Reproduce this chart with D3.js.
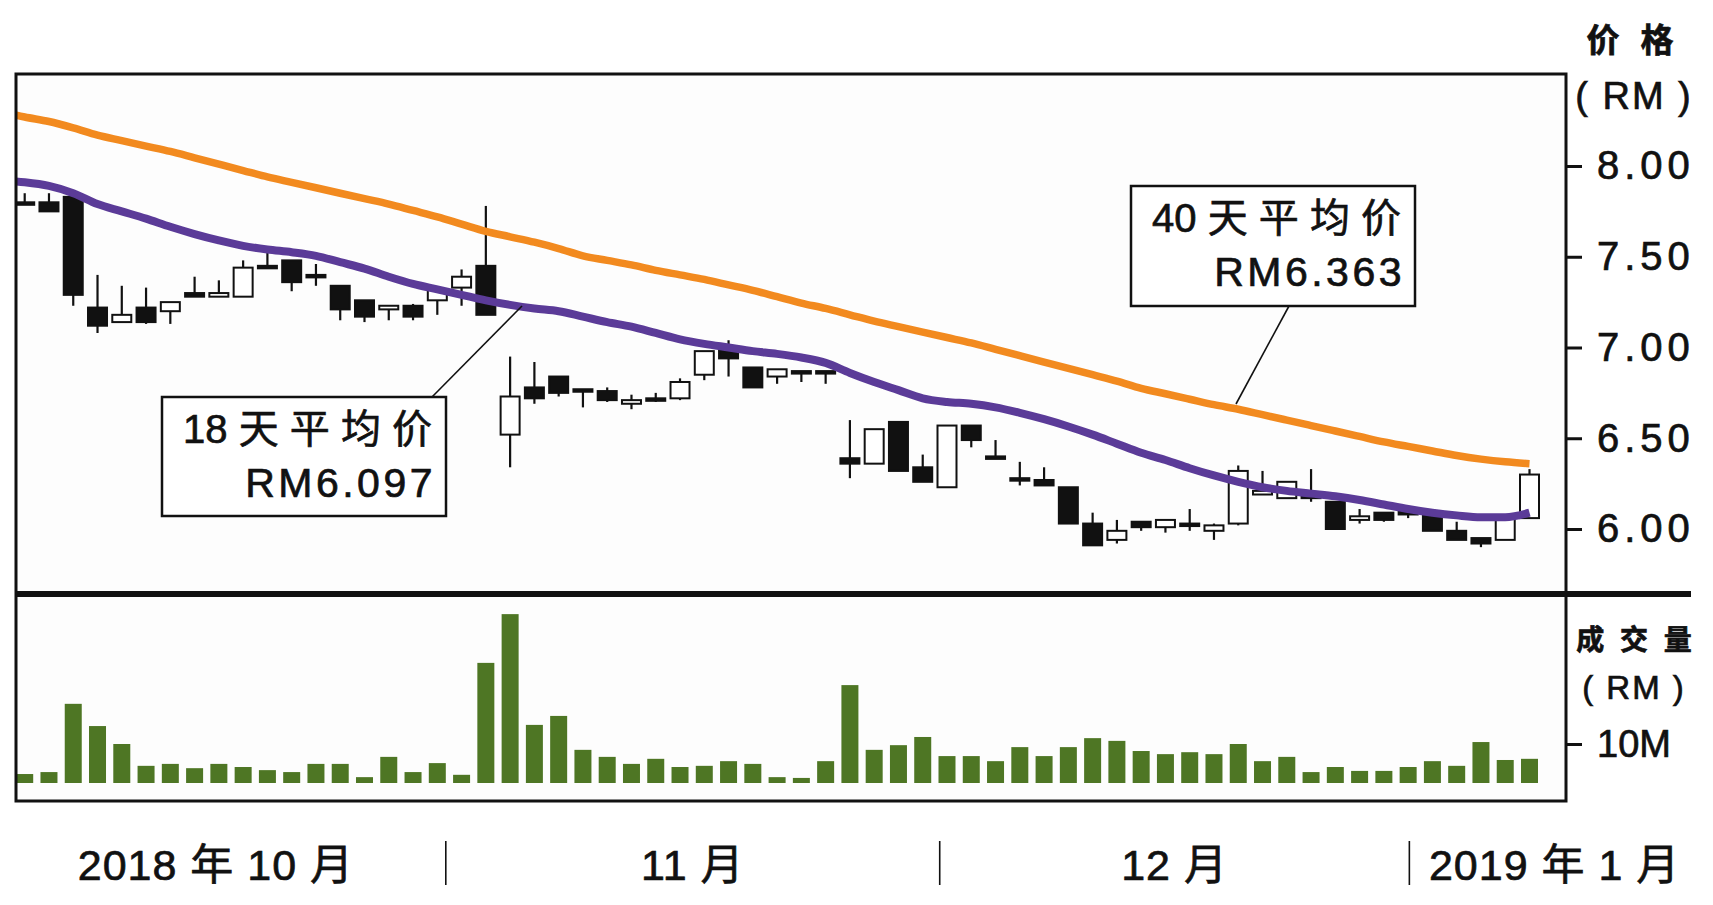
<!DOCTYPE html>
<html>
<head>
<meta charset="utf-8">
<script src="https://cdn.jsdelivr.net/npm/d3@7"></script>
<style>
  body { margin: 0; background: #fff; }
  svg { display: block; font-family: "Liberation Sans", "Noto Sans CJK SC", sans-serif; }
  text { stroke: #111; stroke-width: 0.7px; }
</style>
</head>
<body>
<svg width="1713" height="905"></svg>
<script>
// daily candles, trading day 0..62
const open  = [7.80, 7.80, 7.83, 7.22, 7.14, 7.22, 7.20, 7.30, 7.28, 7.28, 7.45, 7.48, 7.40, 7.34, 7.26, 7.21, 7.23, 7.26, 7.33, 7.45,
               6.52, 6.78, 6.84, 6.77, 6.76, 6.69, 6.72, 6.72, 6.85, 6.99, 6.89, 6.84, 6.87, 6.87, 6.39, 6.36, 6.59, 6.34, 6.23, 6.57,
               6.40, 6.28, 6.27, 6.23, 6.03, 5.94, 6.04, 6.01, 6.03, 5.99, 6.03, 6.19, 6.17, 6.19, 6.15, 6.05, 6.09, 6.10, 6.08, 5.99,
               5.95, 5.94, 6.06]
const high  = [7.85, 7.85, 7.84, 7.40, 7.34, 7.33, 7.25, 7.39, 7.37, 7.48, 7.53, 7.48, 7.46, 7.34, 7.26, 7.23, 7.24, 7.32, 7.43, 7.78,
               6.95, 6.92, 6.84, 6.77, 6.78, 6.74, 6.75, 6.83, 6.98, 7.04, 6.89, 6.88, 6.87, 6.87, 6.60, 6.55, 6.59, 6.41, 6.57, 6.57,
               6.49, 6.37, 6.34, 6.23, 6.09, 6.05, 6.04, 6.05, 6.11, 6.03, 6.35, 6.32, 6.26, 6.33, 6.15, 6.11, 6.09, 6.11, 6.08, 6.04,
               5.95, 6.06, 6.33]
const low   = [7.80, 7.75, 7.23, 7.08, 7.14, 7.13, 7.13, 7.28, 7.28, 7.28, 7.45, 7.31, 7.34, 7.15, 7.14, 7.15, 7.15, 7.18, 7.23, 7.18,
               6.34, 6.69, 6.73, 6.67, 6.70, 6.66, 6.70, 6.71, 6.82, 6.84, 6.78, 6.80, 6.81, 6.80, 6.28, 6.36, 6.32, 6.26, 6.23, 6.45,
               6.40, 6.24, 6.24, 6.03, 5.91, 5.92, 5.99, 5.98, 5.99, 5.94, 6.02, 6.19, 6.17, 6.15, 6.00, 6.03, 6.04, 6.06, 5.99, 5.94,
               5.90, 5.94, 6.06]
const close = [7.80, 7.75, 7.29, 7.12, 7.18, 7.14, 7.25, 7.28, 7.30, 7.44, 7.45, 7.36, 7.40, 7.21, 7.17, 7.23, 7.17, 7.32, 7.39, 7.18,
               6.73, 6.72, 6.75, 6.77, 6.71, 6.71, 6.72, 6.81, 6.98, 6.94, 6.78, 6.88, 6.87, 6.87, 6.36, 6.55, 6.32, 6.26, 6.57, 6.49,
               6.40, 6.27, 6.24, 6.03, 5.91, 5.99, 6.01, 6.05, 6.03, 6.02, 6.32, 6.21, 6.26, 6.17, 6.00, 6.07, 6.05, 6.08, 5.99, 5.94,
               5.92, 6.06, 6.30]
// volume, million RM
const volume = [2.3, 2.8, 20.3, 14.6, 10.0, 4.4, 4.9, 3.8, 4.9, 4.1, 3.3, 2.8, 4.9, 4.9, 1.5, 6.7, 2.8, 5.1, 2.1, 30.8,
                43.3, 14.9, 17.2, 8.5, 6.7, 4.9, 6.2, 4.1, 4.4, 5.6, 4.9, 1.5, 1.3, 5.6, 25.1, 8.5, 9.7, 11.8, 6.9, 6.9,
                5.6, 9.2, 6.9, 9.2, 11.5, 10.8, 8.2, 7.4, 7.9, 7.4, 10.0, 5.6, 6.7, 2.8, 4.1, 3.1, 3.1, 4.1, 5.6, 4.4,
                10.5, 5.9, 6.2]
// moving averages, first value is the day before day 0
const ma18 = [7.92, 7.91, 7.89, 7.85, 7.79, 7.75, 7.71, 7.665, 7.625, 7.59, 7.56, 7.54, 7.525, 7.505, 7.47, 7.435, 7.39,
              7.35, 7.32, 7.29, 7.26, 7.235, 7.215, 7.20, 7.17, 7.14, 7.115, 7.08, 7.045, 7.02, 7.00, 6.98, 6.965,
              6.945, 6.915, 6.86, 6.81, 6.765, 6.72, 6.70, 6.69, 6.67, 6.64, 6.605, 6.565, 6.52, 6.47, 6.42, 6.38,
              6.335, 6.295, 6.26, 6.23, 6.21, 6.195, 6.18, 6.16, 6.135, 6.11, 6.09, 6.075, 6.065, 6.065, 6.09]
const ma40 = [8.30, 8.27, 8.245, 8.21, 8.17, 8.14, 8.11, 8.08, 8.045, 8.01, 7.975, 7.94, 7.91, 7.88, 7.85, 7.82, 7.79,
              7.755, 7.72, 7.68, 7.64, 7.61, 7.58, 7.545, 7.505, 7.48, 7.455, 7.425, 7.40, 7.375, 7.345, 7.315, 7.28,
              7.245, 7.215, 7.18, 7.145, 7.115, 7.085, 7.055, 7.025, 6.99, 6.955, 6.92, 6.885, 6.85, 6.815, 6.775, 6.745,
              6.715, 6.685, 6.66, 6.63, 6.60, 6.57, 6.54, 6.51, 6.48, 6.455, 6.43, 6.405, 6.385, 6.37, 6.36]

const priceTicks = [6, 6.5, 7, 7.5, 8]
const volumeTicks = [10]
const monthLabels = ['2018 年 10 月', '11 月', '12 月', '2019 年 1 月']
const monthBreaks = [17.35, 37.7, 57.05]   // trading-day position of the month dividers
const notes = [
  {title: '18 天 平 均 价', value: 'RM6.097'},
  {title: '40 天 平 均 价', value: 'RM6.363'}
]

const svg = d3.select('svg')
const box = {left: 16, right: 1566, top: 74, mid: 594, bottom: 801}
const days = d3.range(open.length)

const x = d3.scaleLinear().domain([0, 62]).range([24.7, 1529.5])
const y = d3.scaleLinear().domain([6, 8]).range([529, 166])
const yv = d3.scaleLinear().domain([0, 10]).range([783, 744])

const defs = svg.append('defs')
defs.append('clipPath').attr('id', 'clipPrice')
  .append('rect').attr('x', box.left).attr('y', box.top).attr('width', box.right - box.left).attr('height', box.mid - box.top)
defs.append('clipPath').attr('id', 'clipVol')
  .append('rect').attr('x', box.left).attr('y', box.mid).attr('width', box.right - box.left).attr('height', box.bottom - box.mid)

svg.append('rect')
  .attr('x', box.left).attr('y', box.top)
  .attr('width', box.right - box.left).attr('height', box.bottom - box.top)
  .attr('fill', '#fdfdfd')

// candles
const price = svg.append('g').attr('clip-path', 'url(#clipPrice)')
const candle = price.selectAll('g.candle')
  .data(days)
  .enter().append('g')
    .attr('class', 'candle')

candle.append('line')
  .attr('x1', d => x(d)).attr('x2', d => x(d))
  .attr('y1', d => y(high[d])).attr('y2', d => y(low[d]))
  .attr('stroke', '#111').attr('stroke-width', 2.2)

candle.append('rect')
  .attr('x', d => x(d) - 9.5)
  .attr('width', 19)
  .attr('y', d => y(Math.max(open[d], close[d])))
  .attr('height', d => Math.max(2.5, Math.abs(y(open[d]) - y(close[d]))))
  .attr('fill', d => close[d] > open[d] ? '#fff' : '#111')
  .attr('stroke', '#111')
  .attr('stroke-width', 2)

// moving averages
const maLine = d3.line()
  .x((d, i) => x(i - 1))
  .y(d => y(d))
  .curve(d3.curveMonotoneX)

price.append('path')
  .datum(ma40)
  .attr('d', maLine)
  .attr('fill', 'none')
  .attr('stroke', '#f28a1f')
  .attr('stroke-width', 7.5)

price.append('path')
  .datum(ma18)
  .attr('d', maLine)
  .attr('fill', 'none')
  .attr('stroke', '#5b3b98')
  .attr('stroke-width', 8)

// volume bars
svg.append('g').attr('clip-path', 'url(#clipVol)')
  .selectAll('rect')
  .data(days)
  .enter().append('rect')
    .attr('x', d => x(d) - 8.5)
    .attr('width', 17)
    .attr('y', d => yv(volume[d]))
    .attr('height', d => yv(0) - yv(volume[d]))
    .attr('fill', '#4e7624')

// frame
svg.append('rect')
  .attr('x', box.left).attr('y', box.top)
  .attr('width', box.right - box.left).attr('height', box.bottom - box.top)
  .attr('fill', 'none').attr('stroke', '#111').attr('stroke-width', 3)

svg.append('line')
  .attr('x1', box.left).attr('x2', 1691)
  .attr('y1', box.mid).attr('y2', box.mid)
  .attr('stroke', '#111').attr('stroke-width', 6)

// right axes
const yAxis = svg.append('g')
  .attr('transform', 'translate(' + box.right + ',0)')
  .call(d3.axisRight(y).tickValues(priceTicks).tickSize(16).tickPadding(15).tickFormat(d3.format('.2f')))
yAxis.select('.domain').remove()
yAxis.selectAll('line').attr('stroke', '#111').attr('stroke-width', 3)
yAxis.selectAll('text')
  .attr('font-size', 40).attr('letter-spacing', 5).attr('fill', '#111').attr('font-family', null)

const vAxis = svg.append('g')
  .attr('transform', 'translate(' + box.right + ',0)')
  .call(d3.axisRight(yv).tickValues(volumeTicks).tickSize(16).tickPadding(15).tickFormat(d => d + 'M'))
vAxis.select('.domain').remove()
vAxis.selectAll('line').attr('stroke', '#111').attr('stroke-width', 3)
vAxis.selectAll('text')
  .attr('font-size', 38).attr('fill', '#111').attr('font-family', null)

const unit = svg.append('g').attr('text-anchor', 'middle').attr('fill', '#111')
unit.append('text').attr('x', 1633).attr('y', 52).attr('font-size', 33).attr('font-weight', 'bold').attr('letter-spacing', 6).text('价 格')
unit.append('text').attr('x', 1634).attr('y', 109).attr('font-size', 38).attr('letter-spacing', 2).text('( RM )')
unit.append('text').attr('x', 1636).attr('y', 650).attr('font-size', 28).attr('font-weight', 'bold').attr('letter-spacing', 4).text('成 交 量')
unit.append('text').attr('x', 1634).attr('y', 699).attr('font-size', 33).attr('letter-spacing', 2).text('( RM )')

// month labels along the bottom
const edges = [x.invert(-14)].concat(monthBreaks, [x.invert(1700)])
const months = svg.append('g')
months.selectAll('line')
  .data(monthBreaks)
  .enter().append('line')
    .attr('x1', d => x(d)).attr('x2', d => x(d))
    .attr('y1', 841).attr('y2', 885)
    .attr('stroke', '#111').attr('stroke-width', 1.6)
months.selectAll('text')
  .data(monthLabels)
  .enter().append('text')
    .attr('x', (d, i) => x((edges[i] + edges[i + 1]) / 2))
    .attr('y', 880)
    .attr('text-anchor', 'middle')
    .attr('font-size', 43)
    .attr('letter-spacing', 1)
    .attr('fill', '#111')
    .text(d => d)

// annotation boxes
const noteBoxes = [
  {x: 162, y: 397, w: 284, h: 119, from: [432, 397], to: [522, 306]},
  {x: 1131, y: 186, w: 284, h: 120, from: [1289, 306], to: [1236, 404]}
]
noteBoxes.forEach((b, i) => {
  const g = svg.append('g')
  g.append('line')
    .attr('x1', b.from[0]).attr('y1', b.from[1])
    .attr('x2', b.to[0]).attr('y2', b.to[1])
    .attr('stroke', '#111').attr('stroke-width', 1.6)
  g.append('rect')
    .attr('x', b.x).attr('y', b.y).attr('width', b.w).attr('height', b.h)
    .attr('fill', '#fff').attr('stroke', '#111').attr('stroke-width', 2.5)
  g.append('text')
    .attr('x', b.x + b.w - 14).attr('y', b.y + 46)
    .attr('text-anchor', 'end').attr('font-size', 40).attr('fill', '#111')
    .text(notes[i].title)
  g.append('text')
    .attr('x', b.x + b.w - 10).attr('y', b.y + 100)
    .attr('text-anchor', 'end').attr('font-size', 41).attr('letter-spacing', 3.5).attr('fill', '#111')
    .text(notes[i].value)
})
</script>
</body>
</html>
